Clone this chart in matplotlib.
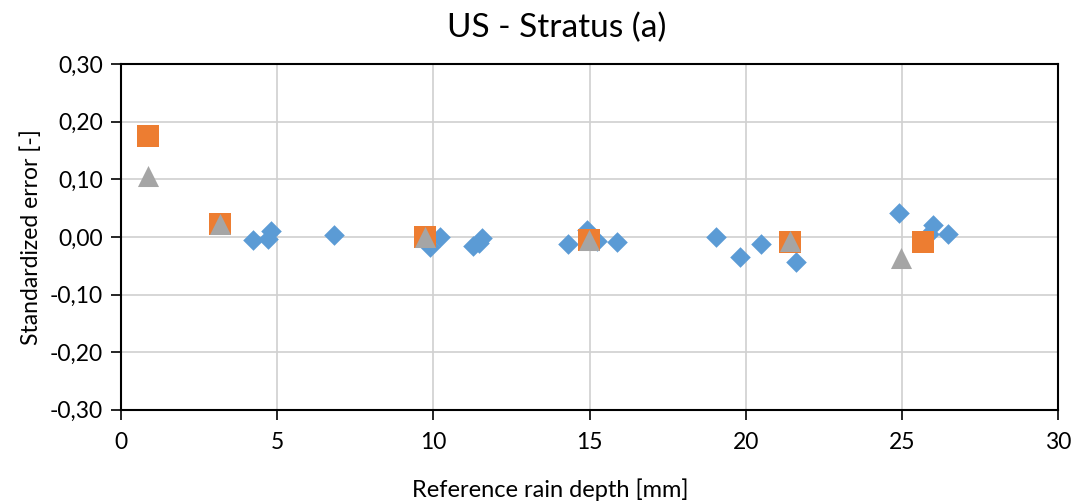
import matplotlib.pyplot as plt
from matplotlib.ticker import FuncFormatter

plt.rcParams['font.family'] = ['Lato', 'DejaVu Sans']

# reference rain depth [mm] and standardized error [-] per series
diamond_x = [4.23, 4.7, 4.8, 6.8, 9.9, 10.2, 11.25, 11.45, 11.55, 14.3, 14.9, 15.25,
             15.87, 19.04, 19.8, 20.48, 21.6, 24.9, 25.85, 26.0, 26.47]
diamond_y = [-0.005, -0.003, 0.01, 0.004, -0.017, 0.0, -0.016, -0.01, -0.002, -0.012,
             0.012, -0.008, -0.009, -0.001, -0.035, -0.012, -0.043, 0.042, 0.005, 0.021, 0.005]
square_x = [0.87, 3.17, 9.74, 14.97, 21.4, 25.67]
square_y = [0.175, 0.023, 0.0, -0.005, -0.009, -0.009]
triangle_x = [0.87, 3.17, 9.74, 14.97, 21.4, 24.97]
triangle_y = [0.105, 0.023, 0.0, -0.005, -0.007, -0.036]

x_ticks = [0, 5, 10, 15, 20, 25, 30]
y_ticks = [-0.3, -0.2, -0.1, 0.0, 0.1, 0.2, 0.3]

fig = plt.figure(figsize=(10.81, 5.04), dpi=100)
ax = fig.add_axes([0.112, 0.187, 0.867, 0.686])

ax.scatter(diamond_x, diamond_y, marker='D', s=110, c='#5b9bd5', zorder=3, linewidths=0)
ax.scatter(square_x, square_y, marker='s', s=260, c='#ed7d31', zorder=4, linewidths=0)
ax.scatter(triangle_x, triangle_y, marker='^', s=230, c='#a5a5a5', zorder=5, linewidths=0)

ax.set_xlim(0, 30)
ax.set_ylim(-0.3, 0.3)
ax.set_xticks(x_ticks)
ax.set_yticks(y_ticks)
ax.yaxis.set_major_formatter(FuncFormatter(lambda v, p: f"{v:.2f}".replace('.', ',').replace('-0,00', '0,00')))
ax.grid(True, color='#d0d0d0', linewidth=1.2, zorder=0)
ax.set_axisbelow(True)
for s in ax.spines.values():
    s.set_color('black')
    s.set_linewidth(1.5)
ax.tick_params(axis='both', direction='out', length=7, width=1.2, labelsize=16.5, colors='black', pad=6)
ax.tick_params(axis='x', pad=9)

# title and x label are centred on the whole chart area, not on the plot box
fig.text(0.515, 0.944, "US - Stratus (a)", fontsize=24, ha='center', va='center')
ax.set_xlabel("Reference rain depth [mm]", fontsize=17, va='center')
ax.xaxis.set_label_coords(0.458, -0.231)
ax.set_ylabel("Standardized error [-]", fontsize=16.5, labelpad=6)

fig.savefig("out.png", dpi=100)
